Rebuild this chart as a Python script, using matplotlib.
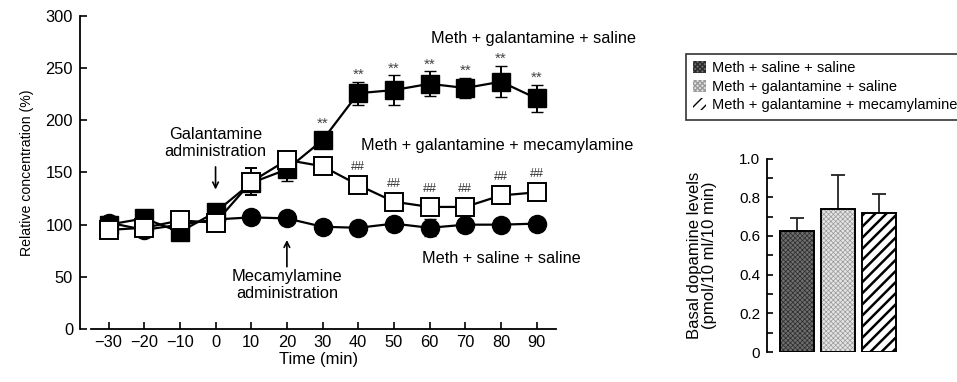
import matplotlib
matplotlib.use("Agg")
import matplotlib.pyplot as plt
import numpy as np

plt.rcParams["font.family"] = ["Liberation Sans", "DejaVu Sans"]

# ── data ──────────────────────────────────────────────────────────────────────
time = [-30, -20, -10, 0, 10, 20, 30, 40, 50, 60, 70, 80, 90]

saline = [102, 95, 100, 105, 107, 106, 98, 97, 101, 97, 100, 100, 101]
saline_err = [3, 3, 3, 3, 4, 4, 3, 3, 4, 8, 3, 3, 3]

galant = [100, 106, 93, 112, 140, 153, 181, 226, 229, 235, 231, 237, 221]
galant_err = [3, 4, 4, 5, 8, 11, 5, 11, 14, 12, 10, 15, 13]

mecam = [95, 97, 104, 102, 141, 162, 156, 138, 122, 117, 117, 128, 131]
mecam_err = [3, 3, 3, 3, 13, 5, 4, 4, 4, 4, 5, 8, 4]

star_times = [30, 40, 50, 60, 70, 80, 90]
hash_times = [40, 50, 60, 70, 80, 90]

bar_labels = ["Meth + saline + saline",
              "Meth + galantamine + saline",
              "Meth + galantamine + mecamylamine"]
bar_vals = [0.625, 0.74, 0.72]
bar_err = [0.07, 0.175, 0.095]

# ── figure ────────────────────────────────────────────────────────────────────
W, H = 957, 382
fig = plt.figure(figsize=(W / 100, H / 100), dpi=100)
fig.patch.set_facecolor("white")

ax = fig.add_axes([80 / W, 53 / H, 478 / W, 313 / H])
ax.set_xlim(-38, 96)
ax.set_ylim(0, 300)

lw = 1.6
ax.errorbar(time, saline, yerr=saline_err, fmt="-o", color="black", lw=lw,
            ms=13, mfc="black", mec="black", capsize=4, elinewidth=1.4, zorder=3)
ax.errorbar(time, galant, yerr=galant_err, fmt="-s", color="black", lw=lw,
            ms=13, mfc="black", mec="black", capsize=4, elinewidth=1.4, zorder=4)
ax.errorbar(time, mecam, yerr=mecam_err, fmt="-s", color="black", lw=lw,
            ms=13, mfc="white", mec="black", mew=1.4, capsize=4, elinewidth=1.4, zorder=5)

# significance marks
for t in star_times:
    i = time.index(t)
    top = max(galant[i] + galant_err[i], galant[i] + 9)
    ax.annotate("**", (t, top), xytext=(0, 0), textcoords="offset points",
                ha="center", va="bottom", fontsize=11, color="#444444")
for t in hash_times:
    i = time.index(t)
    top = max(mecam[i] + mecam_err[i], mecam[i] + 9)
    ax.annotate("##", (t, top), xytext=(0, 2), textcoords="offset points",
                ha="center", va="bottom", fontsize=9, color="#333333")

# group labels
ax.text(89, 278, "Meth + galantamine + saline", ha="center", va="center", fontsize=11.7)
ax.text(79, 176, "Meth + galantamine + mecamylamine", ha="center", va="center", fontsize=11.7)
ax.text(80, 68, "Meth + saline + saline", ha="center", va="center", fontsize=11.7)

# administration arrows
ax.annotate("", xy=(0, 131), xytext=(0, 158),
            arrowprops=dict(arrowstyle="->", color="black", lw=1.2))
ax.text(0, 178, "Galantamine\nadministration", ha="center", va="center",
        fontsize=11.8, linespacing=1.15)
ax.annotate("", xy=(20, 88), xytext=(20, 57),
            arrowprops=dict(arrowstyle="->", color="black", lw=1.2))
ax.text(20, 42, "Mecamylamine\nadministration", ha="center", va="center",
        fontsize=11.8, linespacing=1.15)

ax.set_xticks(time)
ax.set_xticklabels(["\u221230", "\u221220", "\u221210"] + [str(t) for t in time[3:]])
ax.set_yticks([0, 50, 100, 150, 200, 250, 300])
ax.tick_params(direction="in", length=5, width=1.2, labelsize=11.8)
ax.tick_params(axis="x", pad=4)
ax.tick_params(axis="y", pad=5)
ax.spines["top"].set_visible(False)
ax.spines["right"].set_visible(False)
ax.spines["left"].set_linewidth(1.3)
ax.spines["bottom"].set_linewidth(1.3)
ax.spines["bottom"].set_bounds(-35, 95.5)
ax.set_xlabel("Time (min)", fontsize=12, labelpad=2)
ax.set_ylabel("Relative concentration (%)", fontsize=10.2, labelpad=8)

# ── right: basal dopamine bars ────────────────────────────────────────────────
bx = fig.add_axes([767 / W, 30 / H, 143 / W, 193.5 / H])
bx.set_xlim(0.265, 3.75)
bx.set_ylim(0, 1.0)
xs = np.arange(1, len(bar_vals) + 1)

styles = [
    dict(facecolor="#6e6e6e", hatch="xxxxxxx", hatch_col="#2a2a2a", hlw=0.5),
    dict(facecolor="#e4e4e4", hatch="xxxxxxx", hatch_col="#9a9a9a", hlw=0.5),
    dict(facecolor="white", hatch="///", hatch_col="black", hlw=1.8),
]
handles = []
for x, v, e, lab, st in zip(xs, bar_vals, bar_err, bar_labels, styles):
    with plt.rc_context({"hatch.linewidth": st["hlw"]}):
        b = bx.bar(x, v, width=0.82, color=st["facecolor"], edgecolor=st["hatch_col"],
                   hatch=st["hatch"], linewidth=0, zorder=2)
    bx.bar(x, v, width=0.82, color="none", edgecolor="black", linewidth=1.4, zorder=3)
    bx.errorbar(x, v, yerr=[[0], [e]], fmt="none", ecolor="#222222",
                elinewidth=1.3, capsize=5, capthick=1.3, zorder=1)
    handles.append(b[0])

bx.set_yticks([0, 0.2, 0.4, 0.6, 0.8, 1.0])
bx.set_yticklabels(["0", "0.2", "0.4", "0.6", "0.8", "1.0"])
bx.set_yticks(np.arange(0.1, 1.0, 0.2), minor=True)
bx.tick_params(axis="y", which="both", direction="in", length=4, width=1.2,
               labelsize=11, pad=5)
bx.set_xticks([])
for s in ["top", "right", "bottom"]:
    bx.spines[s].set_visible(False)
bx.spines["left"].set_linewidth(1.3)
bx.set_ylabel("Basal dopamine levels\n(pmol/10 ml/10 min)", fontsize=12,
              labelpad=16, linespacing=1.0)

leg = fig.legend(handles, bar_labels, loc="upper left",
                 bbox_to_anchor=(686 / W, 1 - 54 / H), fontsize=10.5,
                 frameon=True, fancybox=False, edgecolor="black",
                 handlelength=0.9, handleheight=0.9, handletextpad=0.4,
                 labelspacing=0.3, borderpad=0.5, borderaxespad=0)
leg.get_frame().set_linewidth(1.2)

plt.savefig("out.png", dpi=100, facecolor="white")
